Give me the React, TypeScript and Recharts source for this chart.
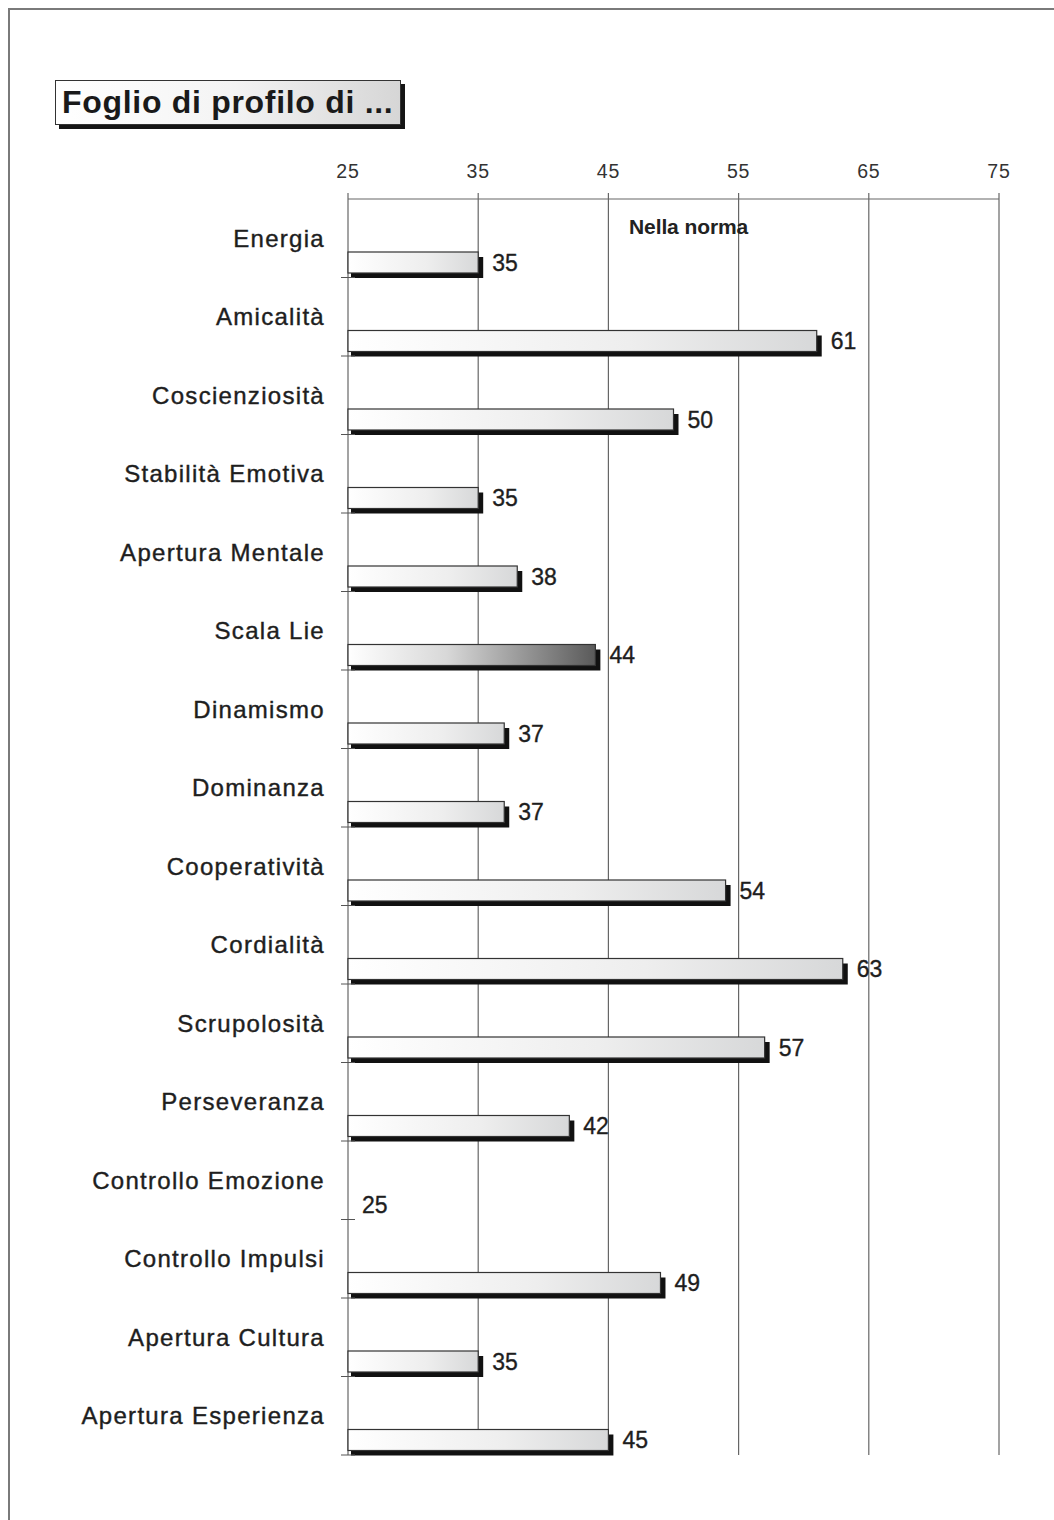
import React from "react";
import { BarChart, Bar, XAxis, YAxis, CartesianGrid, Cell, LabelList } from "recharts";

// Profile scales, top to bottom
const categories = [
  "Energia",
  "Amicalità",
  "Coscienziosità",
  "Stabilità Emotiva",
  "Apertura Mentale",
  "Scala Lie",
  "Dinamismo",
  "Dominanza",
  "Cooperatività",
  "Cordialità",
  "Scrupolosità",
  "Perseveranza",
  "Controllo Emozione",
  "Controllo Impulsi",
  "Apertura Cultura",
  "Apertura Esperienza",
];

// T-scores per scale
const scores = [35, 61, 50, 35, 38, 44, 37, 37, 54, 63, 57, 42, 25, 49, 35, 45];

const xTicks = [25, 35, 45, 55, 65, 75];
const highlighted = "Scala Lie";
const title = "Foglio di profilo di ...";
const normLabel = "Nella norma";

const data = categories.map((name, i) => ({ name, score: scores[i] }));

const FONT = '"Liberation Sans", Arial, Helvetica, sans-serif';
const BAR_SHIFT = 24; // bars sit in the lower part of each band
const HALF_BAND = 39.25;

const ShadowBar = (props: any) => {
  const { x, y, width, height, fill } = props;
  if (!width || width <= 0) return <g />;
  const y0 = y + BAR_SHIFT;
  return (
    <g>
      <rect x={x + 3} y={y0 + 5} width={width + 2} height={height} fill="#111" />
      <rect x={x} y={y0} width={width} height={height} fill={fill} stroke="#333" strokeWidth={1.2} />
    </g>
  );
};

const ValueLabel = (props: any) => {
  const { x, y, width, height, value } = props;
  return (
    <text
      x={x + (width || 0) + 14}
      y={y + BAR_SHIFT + height / 2}
      dy="0.36em"
      fontFamily={FONT}
      fontSize={23}
      fill="#1e1e1e"
      stroke="#1e1e1e"
      strokeWidth={0.35}
    >
      {value}
    </text>
  );
};

const CategoryTick = (props: any) => {
  const { x, y, payload } = props;
  return (
    <g>
      <text
        x={x}
        y={y}
        dy="0.36em"
        textAnchor="end"
        fontFamily={FONT}
        fontSize={24}
        letterSpacing={1.3}
        fill="#1e1e1e"
        stroke="#1e1e1e"
        strokeWidth={0.4}
      >
        {payload.value}
      </text>
      <line x1={x + 16} x2={x + 30} y1={y + HALF_BAND} y2={y + HALF_BAND} stroke="#555" strokeWidth={1} />
    </g>
  );
};

export default function App() {
  return (
    <div style={{ position: "absolute", left: 0, top: 0, width: 1054, height: 1520, background: "#fff", overflow: "hidden" }}>
      {/* page frame */}
      <div
        style={{
          position: "absolute",
          left: 8,
          top: 8,
          width: 1060,
          height: 1530,
          borderLeft: "2px solid #7a7a7a",
          borderTop: "2px solid #7a7a7a",
        }}
      />
      {/* title box */}
      <div
        style={{
          position: "absolute",
          left: 55,
          top: 80,
          width: 338,
          height: 43,
          border: "1.5px solid #333",
          background: "linear-gradient(to right, #ffffff 0%, #f4f4f4 50%, #d6d6d6 100%)",
          boxShadow: "4px 4px 0 #151515",
          fontFamily: FONT,
          fontWeight: "bold",
          fontSize: 32,
          letterSpacing: 0.7,
          lineHeight: "43px",
          paddingLeft: 6,
          boxSizing: "content-box",
          color: "#1a1a1a",
          whiteSpace: "nowrap",
        }}
      >
        {title}
      </div>
      <div style={{ position: "absolute", left: 0, top: 0 }}>
        <BarChart
          width={1054}
          height={1520}
          layout="vertical"
          data={data}
          margin={{ top: 150, right: 55, bottom: 65, left: 0 }}
        >
          <defs>
            <linearGradient id="barFill" x1="0" y1="0" x2="1" y2="0">
              <stop offset="0%" stopColor="#ffffff" />
              <stop offset="60%" stopColor="#eeeeee" />
              <stop offset="100%" stopColor="#d7d8d9" />
            </linearGradient>
            <linearGradient id="barFillDark" x1="0" y1="0" x2="1" y2="0">
              <stop offset="0%" stopColor="#ffffff" />
              <stop offset="40%" stopColor="#d8d8d8" />
              <stop offset="100%" stopColor="#5a5a5a" />
            </linearGradient>
          </defs>
          <CartesianGrid horizontal={false} vertical={true} stroke="#666" strokeWidth={1.2} />
          <XAxis
            type="number"
            orientation="top"
            domain={[25, 75]}
            ticks={xTicks}
            height={49}
            interval={0}
            axisLine={{ stroke: "#666", strokeWidth: 1.2 }}
            tickLine={{ stroke: "#666", strokeWidth: 1.2 }}
            tickSize={6}
            tickMargin={15}
            tick={{ fontFamily: FONT, fontSize: 19.5, fill: "#333", letterSpacing: 0.8 }}
          />
          <YAxis
            type="category"
            dataKey="name"
            width={348}
            axisLine={false}
            tickLine={false}
            tickSize={0}
            tickMargin={23}
            interval={0}
            tick={<CategoryTick />}
          />
          <Bar dataKey="score" barSize={21} isAnimationActive={false} shape={<ShadowBar />}>
            {data.map((d) => (
              <Cell key={d.name} fill={d.name === highlighted ? "url(#barFillDark)" : "url(#barFill)"} />
            ))}
            <LabelList dataKey="score" content={<ValueLabel />} />
          </Bar>
        </BarChart>
      </div>
      <div
        style={{
          position: "absolute",
          left: 629,
          top: 215,
          fontFamily: FONT,
          fontWeight: "bold",
          fontSize: 21,
          letterSpacing: -0.1,
          color: "#222",
          whiteSpace: "nowrap",
          lineHeight: "24px",
        }}
      >
        {normLabel}
      </div>
    </div>
  );
}
